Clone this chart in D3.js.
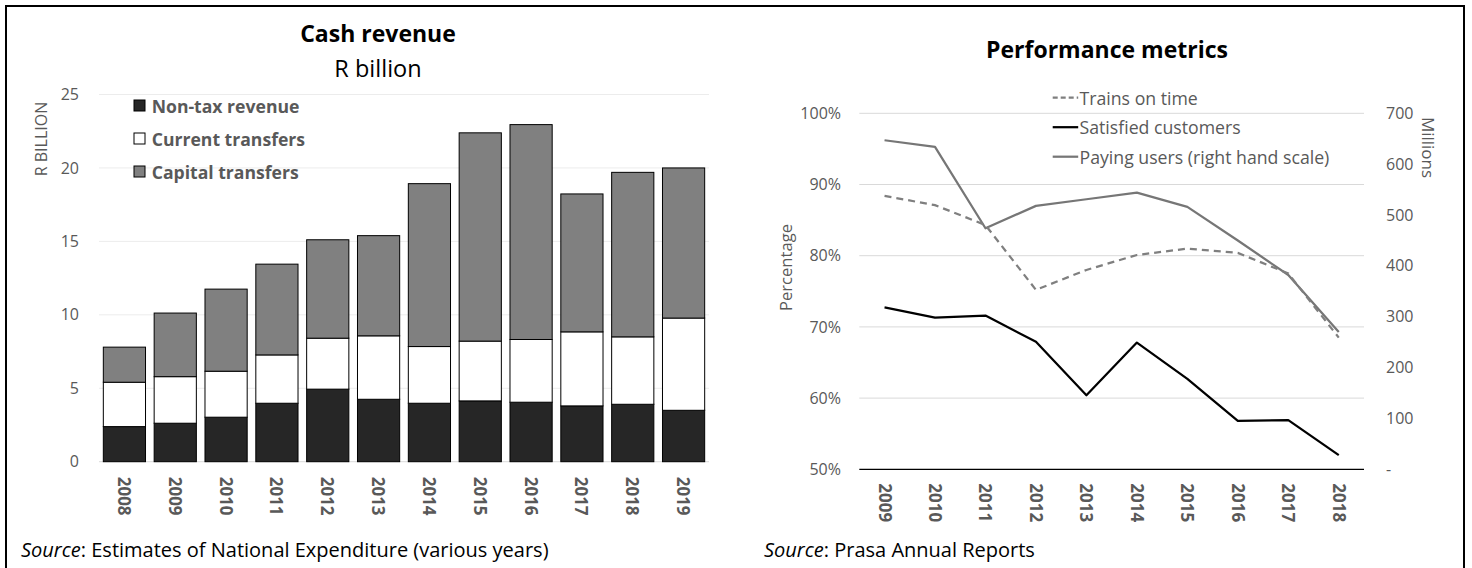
<!DOCTYPE html>
<html>
<head>
<meta charset="utf-8">
<script src="https://cdn.jsdelivr.net/npm/d3@7"></script>
<style>
  html, body { margin: 0; padding: 0; background: #fff; }
  svg { display: block; font-family: "Open Sans", sans-serif; }
</style>
</head>
<body>
<svg id="chart" width="1472" height="568"></svg>
<script>
// ---------- DATA ----------
const revenueYears = ["2008","2009","2010","2011","2012","2013","2014","2015","2016","2017","2018","2019"];
const nonTaxRevenue    = [2.39, 2.62, 3.03, 3.98, 4.94, 4.25, 3.98, 4.14, 4.05, 3.80, 3.91, 3.50];
const currentTransfers = [3.02, 3.17, 3.13, 3.29, 3.47, 4.32, 3.86, 4.07, 4.27, 5.04, 4.59, 6.28];
const capitalTransfers = [2.39, 4.33, 5.59, 6.18, 6.70, 6.82, 11.09, 14.18, 14.63, 9.39, 11.20, 10.22];
const revenueSeries = ["Non-tax revenue", "Current transfers", "Capital transfers"];
const revenueTicks = [0, 5, 10, 15, 20, 25];

const perfYears = ["2009","2010","2011","2012","2013","2014","2015","2016","2017","2018"];
const trainsOnTime = [88.4, 87.1, 84.3, 75.2, 78.0, 80.1, 81.0, 80.4, 77.5, 68.5];
const satisfiedCustomers = [72.75, 71.3, 71.6, 67.9, 60.4, 67.8, 62.7, 56.8, 56.9, 52.0];
const payingUsers = [647, 634, 474, 518, 531, 544, 516, 450, 382, 270];
const perfSeries = ["Trains on time", "Satisfied customers", "Paying users (right hand scale)"];
const pctTicks = [50, 60, 70, 80, 90, 100];
const millionTicks = [0, 100, 200, 300, 400, 500, 600, 700];

// ---------- SETUP ----------
const svg = d3.select("#chart");
const GRAY_TEXT = "#595959";

// outer frame (no bottom edge visible)
svg.append("path")
  .attr("d", "M6,575 L6,6 L1464,6 L1464,575")
  .attr("fill", "none").attr("stroke", "#000").attr("stroke-width", 2);

// ================= LEFT: Cash revenue =================
const xL = d3.scaleBand().domain(revenueYears).range([99, 709]).paddingInner(0.17).paddingOuter(0.085);
const yL = d3.scaleLinear().domain([0, 25]).range([461.7, 94.5]);

// gridlines
const gL = svg.append("g");
gL.selectAll("line.grid").data(revenueTicks).join("line")
  .attr("x1", 99).attr("x2", 709)
  .attr("y1", d => yL(d)).attr("y2", d => yL(d))
  .attr("stroke", d => d === 0 ? "#d9d9d9" : "#ececec").attr("stroke-width", 1);

// y axis labels
const yAxisL = d3.axisLeft(yL).tickValues(revenueTicks).tickSize(0).tickPadding(0);
const yAxisLG = svg.append("g").attr("transform", "translate(79,0)").call(yAxisL);
yAxisLG.select(".domain").remove();
yAxisLG.selectAll("text").attr("fill", GRAY_TEXT).style("font-size", "16px")
  .style("font-family", "'Open Sans', sans-serif");

// stacked bars
const revRows = revenueYears.map((y, i) => ({
  year: y,
  "Non-tax revenue": nonTaxRevenue[i],
  "Current transfers": currentTransfers[i],
  "Capital transfers": capitalTransfers[i]
}));
const stackL = d3.stack().keys(revenueSeries)(revRows);
const colL = d3.scaleOrdinal().domain(revenueSeries).range(["#262626", "#ffffff", "#808080"]);

svg.append("g").selectAll("g").data(stackL).join("g")
  .attr("fill", d => colL(d.key))
  .selectAll("rect").data(d => d).join("rect")
  .attr("x", d => xL(d.data.year))
  .attr("width", xL.bandwidth())
  .attr("y", d => yL(d[1]))
  .attr("height", d => yL(d[0]) - yL(d[1]))
  .attr("stroke", "#000").attr("stroke-width", 1);

// x labels (rotated)
const xAxisL = d3.axisBottom(xL).tickSize(0).tickPadding(0);
const xAxisLG = svg.append("g").attr("transform", "translate(0,461.7)").call(xAxisL);
xAxisLG.select(".domain").remove();
xAxisLG.selectAll("text")
  .attr("fill", GRAY_TEXT).style("font-size", "17px").style("font-weight", "bold")
  .style("font-family", "'Open Sans', sans-serif")
  .attr("y", 0).attr("dy", null)
  .attr("text-anchor", "start").attr("dominant-baseline", "central")
  .attr("transform", "translate(0,15) rotate(90)");

// y axis title
svg.append("text").attr("transform", "translate(41,139) rotate(-90)")
  .attr("text-anchor", "middle").attr("dominant-baseline", "central")
  .attr("fill", GRAY_TEXT).style("font-size", "16px").text("R BILLION");

// title
svg.append("text").attr("x", 378).attr("y", 41.7).attr("text-anchor", "middle")
  .style("font-size", "23px").style("font-weight", "bold").attr("fill", "#000").text("Cash revenue");
svg.append("text").attr("x", 378).attr("y", 76.7).attr("text-anchor", "middle")
  .style("font-size", "23.5px").attr("fill", "#000").text("R billion");

// legend
const legL = svg.append("g").selectAll("g").data(revenueSeries).join("g")
  .attr("transform", (d, i) => `translate(134,${105.5 + i * 33})`);
legL.append("rect").attr("x", 0).attr("y", -5.5).attr("width", 11).attr("height", 11)
  .attr("fill", d => colL(d)).attr("stroke", "#000").attr("stroke-width", 1);
legL.append("text").attr("x", 17.7).attr("y", 0).attr("dominant-baseline", "central")
  .attr("fill", GRAY_TEXT).style("font-size", "17.6px").style("font-weight", "bold").text(d => d);

// source
const srcL = svg.append("text").attr("x", 21).attr("y", 557).style("font-size", "20px").attr("fill", "#000");
srcL.append("tspan").style("font-style", "italic").text("Source");
srcL.append("tspan").text(": Estimates of National Expenditure (various years)");

// ================= RIGHT: Performance metrics =================
const xR = d3.scalePoint().domain(perfYears).range([859.3, 1364]).padding(0.5);
const yR = d3.scaleLinear().domain([50, 100]).range([469.3, 113.3]);
const yR2 = d3.scaleLinear().domain([0, 700]).range([469.3, 113.3]);

svg.append("g").selectAll("line").data(pctTicks.filter(d => d !== 50)).join("line")
  .attr("x1", 859.3).attr("x2", 1364)
  .attr("y1", d => yR(d)).attr("y2", d => yR(d))
  .attr("stroke", "#d9d9d9").attr("stroke-width", 1);

// left pct axis
const yAxisR = d3.axisLeft(yR).tickValues(pctTicks).tickFormat(d => d + "%").tickSize(0).tickPadding(0);
const yAxisRG = svg.append("g").attr("transform", "translate(841,0)").call(yAxisR);
yAxisRG.select(".domain").remove();
yAxisRG.selectAll("text").attr("fill", GRAY_TEXT).style("font-size", "16px")
  .style("font-family", "'Open Sans', sans-serif");

// right millions axis
const yAxisR2 = d3.axisRight(yR2).tickValues(millionTicks).tickFormat(d => d === 0 ? "-" : d3.format("d")(d))
  .tickSize(0).tickPadding(0);
const yAxisR2G = svg.append("g").attr("transform", "translate(1386,0)").call(yAxisR2);
yAxisR2G.select(".domain").remove();
yAxisR2G.selectAll("text").attr("fill", GRAY_TEXT).style("font-size", "16px")
  .style("font-family", "'Open Sans', sans-serif");

// lines
const lineR = d3.line().x((d, i) => xR(perfYears[i])).y(d => yR(d));
const lineR2 = d3.line().x((d, i) => xR(perfYears[i])).y(d => yR2(d));

svg.append("path").datum(payingUsers).attr("d", lineR2)
  .attr("fill", "none").attr("stroke", "#767676").attr("stroke-width", 2.25).attr("stroke-linejoin", "round");
svg.append("path").datum(trainsOnTime).attr("d", lineR)
  .attr("fill", "none").attr("stroke", "#7f7f7f").attr("stroke-width", 2.25)
  .attr("stroke-dasharray", "7,5");
svg.append("path").datum(satisfiedCustomers).attr("d", lineR)
  .attr("fill", "none").attr("stroke", "#000").attr("stroke-width", 2.25).attr("stroke-linejoin", "round");

// bottom axis line
svg.append("line").attr("x1", 859.3).attr("x2", 1364).attr("y1", yR(50)).attr("y2", yR(50))
  .attr("stroke", "#000").attr("stroke-width", 1.3);

// x labels
const xAxisR = d3.axisBottom(xR).tickSize(0).tickPadding(0);
const xAxisRG = svg.append("g").attr("transform", `translate(0,${yR(50)})`).call(xAxisR);
xAxisRG.select(".domain").remove();
xAxisRG.selectAll("text")
  .attr("fill", GRAY_TEXT).style("font-size", "17px").style("font-weight", "bold")
  .style("font-family", "'Open Sans', sans-serif")
  .attr("y", 0).attr("dy", null)
  .attr("text-anchor", "start").attr("dominant-baseline", "central")
  .attr("transform", "translate(0,14) rotate(90)");

// axis titles
svg.append("text").attr("transform", "translate(785,267.5) rotate(-90)")
  .attr("text-anchor", "middle").attr("dominant-baseline", "central")
  .attr("fill", GRAY_TEXT).style("font-size", "16.6px").text("Percentage");
svg.append("text").attr("transform", "translate(1428,147.5) rotate(90)")
  .attr("text-anchor", "middle").attr("dominant-baseline", "central")
  .attr("fill", GRAY_TEXT).style("font-size", "17px").text("Millions");

// title
svg.append("text").attr("x", 1107).attr("y", 58.3).attr("text-anchor", "middle")
  .style("font-size", "23px").style("font-weight", "bold").attr("fill", "#000").text("Performance metrics");

// legend
const legStyles = [
  { stroke: "#7f7f7f", dash: "5,3" },
  { stroke: "#000", dash: null },
  { stroke: "#767676", dash: null }
];
const legR = svg.append("g").selectAll("g").data(perfSeries).join("g")
  .attr("transform", (d, i) => `translate(1052.7,${97.7 + i * 29.5})`);
legR.append("line").attr("x1", 0).attr("x2", 25.5).attr("y1", 0).attr("y2", 0)
  .attr("stroke", (d, i) => legStyles[i].stroke).attr("stroke-width", 2.25)
  .attr("stroke-dasharray", (d, i) => legStyles[i].dash);
legR.append("text").attr("x", 26.8).attr("y", 0).attr("dominant-baseline", "central")
  .attr("fill", GRAY_TEXT).style("font-size", "17.7px").text(d => d);

// source
const srcR = svg.append("text").attr("x", 764).attr("y", 557).style("font-size", "20px").attr("fill", "#000");
srcR.append("tspan").style("font-style", "italic").text("Source");
srcR.append("tspan").text(": Prasa Annual Reports");
</script>
</body>
</html>
